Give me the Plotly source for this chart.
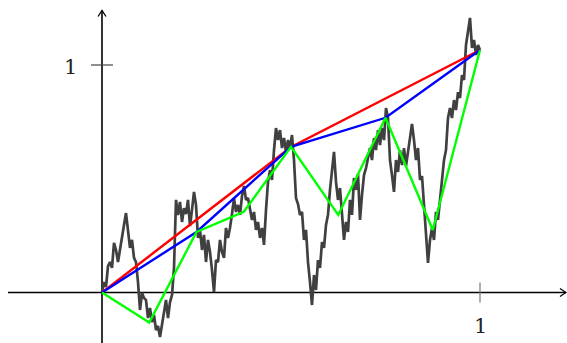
import numpy as np
import plotly.graph_objects as go

path_values = [
    0.0, 0.046, 0.024, 0.116, 0.134, 0.108, 0.218, 0.187, 0.134, 0.196,
    0.248, 0.297, 0.349, 0.266, 0.196, 0.231, 0.152, 0.134, 0.046, -0.077,
    -0.002, -0.024, -0.033, -0.112, -0.068, -0.130, -0.099, -0.165, -0.147, -0.196,
    -0.143, -0.086, -0.033, -0.112, -0.042, -0.011, 0.108, 0.407, 0.341, 0.398,
    0.310, 0.371, 0.345, 0.407, 0.292, 0.363, 0.442, 0.385, 0.240, 0.275,
    0.187, 0.253, 0.134, 0.231, 0.178, 0.099, 0.002, 0.143, 0.134, 0.231,
    0.178, 0.152, 0.284, 0.240, 0.284, 0.345, 0.415, 0.354, 0.385, 0.341,
    0.424, 0.468, 0.407, 0.415, 0.363, 0.319, 0.354, 0.275, 0.310, 0.240,
    0.284, 0.209, 0.363, 0.486, 0.538, 0.495, 0.626, 0.723, 0.670, 0.714,
    0.635, 0.679, 0.618, 0.670, 0.635, 0.692, 0.582, 0.415, 0.389, 0.341,
    0.354, 0.231, 0.275, 0.134, 0.046, -0.055, 0.077, 0.011, 0.143, 0.108,
    0.222, 0.196, 0.297, 0.341, 0.451, 0.538, 0.618, 0.486, 0.407, 0.459,
    0.341, 0.231, 0.310, 0.266, 0.407, 0.341, 0.503, 0.451, 0.521, 0.319,
    0.429, 0.516, 0.547, 0.591, 0.635, 0.582, 0.679, 0.626, 0.714, 0.648,
    0.723, 0.670, 0.811, 0.767, 0.582, 0.516, 0.442, 0.582, 0.530, 0.626,
    0.560, 0.635, 0.556, 0.618, 0.679, 0.741, 0.670, 0.582, 0.635, 0.495,
    0.512, 0.385, 0.275, 0.130, 0.231, 0.284, 0.231, 0.354, 0.319, 0.407,
    0.495, 0.582, 0.626, 0.767, 0.811, 0.767, 0.846, 0.802, 0.881, 0.855,
    0.956, 0.934, 1.088, 1.154, 1.207, 1.075, 1.110, 1.044, 1.088, 1.066,
]
path_t = np.linspace(0.0, 1.0, len(path_values))

# Piecewise-linear (Levy) approximations at dyadic levels 1, 2, 3
red_t = [0.0, 0.5, 1.0]
red_v = [0.0, 0.640, 1.066]
blue_t = [0.0, 0.25, 0.5, 0.75, 1.0]
blue_v = [0.0, 0.266, 0.640, 0.768, 1.066]
green_t = [0.0, 0.125, 0.25, 0.375, 0.5, 0.625, 0.75, 0.875, 1.0]
green_v = [0.0, -0.132, 0.266, 0.355, 0.640, 0.341, 0.768, 0.275, 1.066]

x_ticks = [1]
y_ticks = [1]

fig = go.Figure()
fig.add_trace(go.Scatter(x=path_t, y=path_values, mode="lines",
                         line=dict(color="#404040", width=2.7), hoverinfo="skip"))
fig.add_trace(go.Scatter(x=red_t, y=red_v, mode="lines",
                         line=dict(color="#ff0000", width=2.4)))
fig.add_trace(go.Scatter(x=blue_t, y=blue_v, mode="lines",
                         line=dict(color="#0000ff", width=2.4)))
fig.add_trace(go.Scatter(x=green_t, y=green_v, mode="lines",
                         line=dict(color="#00ff00", width=2.4)))

px_x = 1 / 378.0
px_y = 1 / 227.5
x_min, x_max = -102 * px_x, 465 * px_x
y_min, y_max = -50.5 * px_y, 292.5 * px_y

shapes = []
ax_col = "#000000"
# x axis with arrow
x_start, x_tip = -94 * px_x, 464 * px_x
shapes.append(dict(type="line", x0=x_start, x1=x_tip, y0=0, y1=0, xref="x", yref="y",
                   line=dict(color=ax_col, width=1.6), layer="below"))
shapes.append(dict(type="path", xref="x", yref="y",
                   path=f"M {x_tip - 6*px_x} {4*px_y} L {x_tip} 0 L {x_tip - 6*px_x} {-4*px_y}",
                   line=dict(color=ax_col, width=1.3), layer="below"))
# y axis with arrow
y_start, y_tip = -52 * px_y, 282 * px_y
shapes.append(dict(type="line", x0=0, x1=0, y0=y_start, y1=y_tip, xref="x", yref="y",
                   line=dict(color=ax_col, width=1.6), layer="below"))
shapes.append(dict(type="path", xref="x", yref="y",
                   path=f"M {-4*px_x} {y_tip - 6*px_y} L 0 {y_tip} L {4*px_x} {y_tip - 6*px_y}",
                   line=dict(color=ax_col, width=1.3), layer="below"))
# ticks
for xt in x_ticks:
    shapes.append(dict(type="line", x0=xt, x1=xt, y0=-10 * px_y, y1=10 * px_y,
                       xref="x", yref="y", line=dict(color="#777777", width=1.2), layer="below"))
for yt in y_ticks:
    shapes.append(dict(type="line", x0=-11 * px_x, x1=11 * px_x, y0=yt, y1=yt,
                       xref="x", yref="y", line=dict(color="#444444", width=1.2), layer="below"))

annotations = []
for xt in x_ticks:
    annotations.append(dict(x=xt, y=-33 * px_y, text=str(xt), showarrow=False,
                            font=dict(family="DejaVu Serif", size=21, color="#222222"),
                            xanchor="center", yanchor="middle"))
for yt in y_ticks:
    annotations.append(dict(x=-32 * px_x, y=yt - 2 * px_y, text=str(yt), showarrow=False,
                            font=dict(family="DejaVu Serif", size=21, color="#222222"),
                            xanchor="center", yanchor="middle"))

fig.update_layout(
    width=567, height=343,
    margin=dict(l=0, r=0, t=0, b=0),
    paper_bgcolor="white", plot_bgcolor="white",
    showlegend=False,
    xaxis=dict(range=[x_min, x_max], visible=False, fixedrange=True),
    yaxis=dict(range=[y_min, y_max], visible=False, fixedrange=True),
    shapes=shapes, annotations=annotations,
)

fig.write_html("out.html", config={"displayModeBar": False})
